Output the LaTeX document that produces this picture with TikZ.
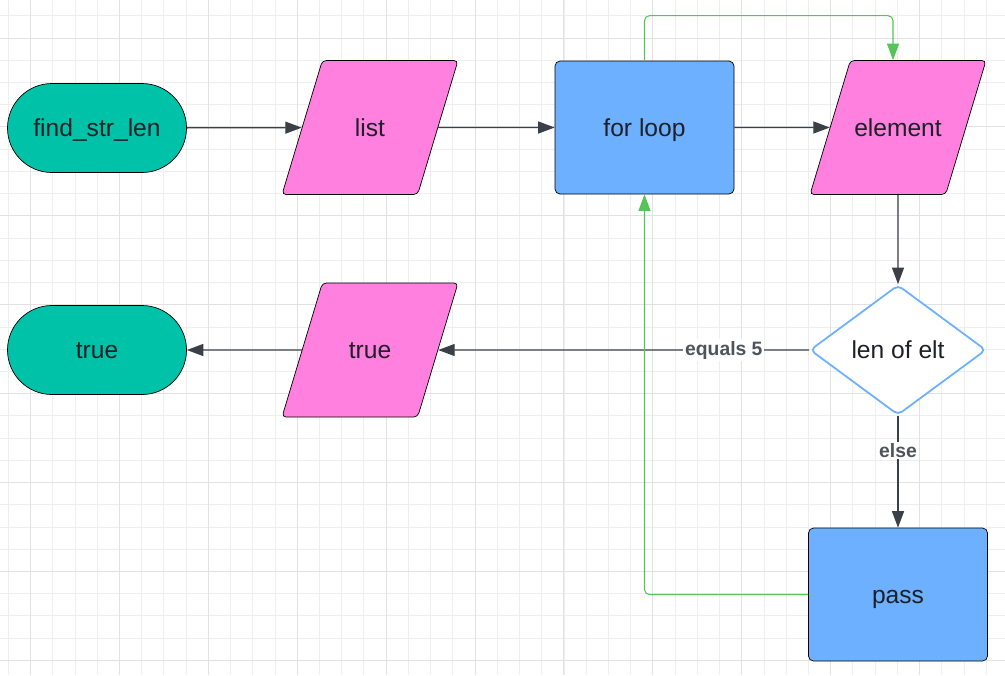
\documentclass[tikz,border=0pt]{standalone}
\usepackage{fontspec}
\setmainfont{Liberation Sans}
\usepackage{tikz}
\usetikzlibrary{positioning}
\usetikzlibrary{shapes.geometric, arrows.meta}
\usetikzlibrary{calc, shapes, backgrounds}

\definecolor{termteal}{RGB}{0,194,168}
\definecolor{iopink}{RGB}{255,128,223}
\definecolor{procblue}{RGB}{108,176,255}
\definecolor{loopgreen}{RGB}{88,196,88}
\definecolor{arrowgray}{RGB}{59,64,72}
\definecolor{textdark}{RGB}{30,32,38}
\definecolor{gridminor}{RGB}{238,238,238}
\definecolor{gridmajor}{RGB}{226,226,226}

\tikzstyle{arrow} = [draw=arrowgray, line width=0.75pt, -{Triangle[length=3.3mm,width=2.4mm]}]
\tikzstyle{looparrow} = [draw=loopgreen, line width=0.6pt, rounded corners=0.1cm, -{Triangle[length=3.3mm,width=2.4mm]}]
\tikzstyle{terminal} = [draw=black, fill=termteal, rectangle, rounded corners=0.89cm, minimum width=3.58cm, minimum height=1.78cm]
\tikzstyle{iobox} = [draw=black, fill=iopink, trapezium, trapezium left angle=42, trapezium right angle=138, trapezium stretches body, inner xsep=0pt, rounded corners=0.08cm, minimum width=3.52cm, minimum height=2.68cm]
\tikzstyle{process} = [draw=black, fill=procblue, rectangle, rounded corners=0.1cm, minimum width=3.58cm, minimum height=2.66cm]
\tikzstyle{decision} = [draw=procblue, fill=white, diamond, line width=1pt, rounded corners=0.1cm, minimum width=3.52cm, minimum height=2.6cm, inner sep=0pt]
\tikzstyle{edgelabel} = [fill=white, inner sep=1pt, text=arrowgray!90, font=\fontsize{11}{13}\selectfont\bfseries]

\begin{document}
\begin{tikzpicture}[
    			every node/.style = {text=textdark, font=\fontsize{14}{17}\selectfont, text height=12pt, text depth=2pt}
  			]
  				% background grid
  				\fill[white] (0,0) rectangle (20.1,-13.5);
  				\useasboundingbox (0,0) rectangle (20.1,-13.5);
  				\foreach \i in {0,...,45} {
  					\draw[gridminor, line width=0.5pt] ({0.166+0.4445*\i},0) -- ++(0,-13.5);
  				}
  				\foreach \i in {0,...,30} {
  					\draw[gridminor, line width=0.5pt] (0,{-0.316-0.4445*\i}) -- ++(20.1,0);
  				}
  				\foreach \i in {0,...,11} {
  					\draw[gridmajor, line width=0.5pt] ({0.61+1.778*\i},0) -- ++(0,-13.5);
  				}
  				\foreach \i in {0,...,7} {
  					\draw[gridmajor, line width=0.5pt] (0,{-0.76-1.778*\i}) -- ++(20.1,0);
  				}

  				% nodes
  				\node[terminal] (Start) at (1.94,-2.56) {find\_str\_len};
  				\node[iobox] (List) at (7.4,-2.55) {list};
  				\node[process] (Loop) at (12.89,-2.55) {for loop};
  				\node[iobox] (Elt) at (17.96,-2.55) {element};
  				\node[decision] (Len) at (17.96,-7.0) {len of elt};
  				\node[iobox] (TrueOut) at (7.4,-7.0) {true};
  				\node[terminal] (End) at (1.94,-7.0) {true};
  				\node[process] (Pass) at (17.96,-11.89) {pass};

  				% connectors
  				\draw[arrow] (Start) -- (List);
  				\draw[arrow] (List) -- (Loop);
  				\draw[arrow] (Loop) -- (Elt);
  				\draw[arrow] (Elt) -- (Len);
  				\draw[arrow] (Len) -- (TrueOut) node [edgelabel, pos=0.23, text height=, text depth=] {equals 5};
  				\draw[arrow] (TrueOut) -- (End);
  				\draw[arrow] (Len) -- (Pass) node [edgelabel, pos=0.31, text height=, text depth=] {else};

  				% loop back
  				\draw[looparrow] (Loop.north) -- ++(0,0.9) -| ([xshift=-0.1cm]Elt.north);
  				\draw[looparrow] (Pass.west) -| (Loop.south);
			\end{tikzpicture}
\end{document}
